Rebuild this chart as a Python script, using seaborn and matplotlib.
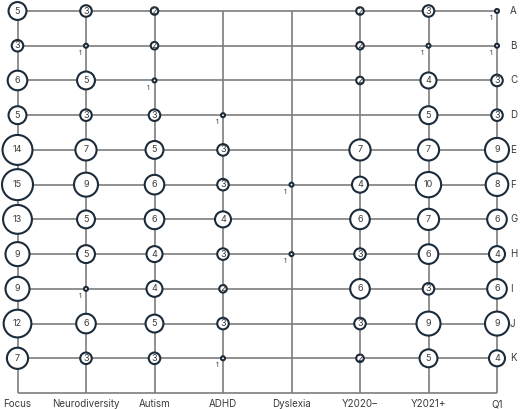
import numpy as np
import pandas as pd
import matplotlib
matplotlib.use("Agg")
import matplotlib.pyplot as plt
import seaborn as sns

# ── data ─────────────────────────────────────────────────────────────────────
ROWS = ["A", "B", "C", "D", "E", "F", "G", "H", "I", "J", "K"]
COLS = ["Focus", "Neurodiversity", "Autism", "ADHD", "Dyslexia",
        "Y2020–", "Y2021+", "Q1"]

focus          = [5, 3, 6, 5, 14, 15, 13, 9, 9, 12, 7]
neurodiversity = [3, 1, 5, 3, 7, 9, 5, 5, 1, 6, 3]
autism         = [2, 2, 1, 3, 5, 6, 6, 4, 4, 5, 3]
adhd           = [0, 0, 0, 1, 3, 3, 4, 3, 2, 3, 1]
dyslexia       = [0, 0, 0, 0, 0, 1, 0, 1, 0, 0, 0]
y2020          = [2, 2, 2, 0, 7, 4, 6, 3, 6, 3, 2]
y2021          = [3, 1, 4, 5, 7, 10, 7, 6, 3, 9, 5]
q1             = [1, 1, 3, 3, 9, 8, 6, 4, 6, 9, 4]

# ── styling ──────────────────────────────────────────────────────────────────
LINE_COLOR   = "#7d7d7d"
CIRCLE_EDGE  = "#1c2b3a"
TEXT_COLOR   = "#3a3a3a"
K_SQRT       = 4.0       # px radius per sqrt(value)


def radius_px(v):
    """sqrt scale, shrunk a bit more for the very small counts"""
    shrink = min(1.0, 0.5 + 0.5 * (v - 1) / 3)
    return K_SQRT * np.sqrt(v) * shrink


def main():
    sns.set_theme(style="white")
    plt.rcParams["font.family"] = ["Inter", "DejaVu Sans"]

    wide = pd.DataFrame(dict(zip(COLS, [focus, neurodiversity, autism, adhd,
                                        dyslexia, y2020, y2021, q1])),
                        index=ROWS)
    df = wide.reset_index(names="row").melt(id_vars="row", var_name="col",
                                            value_name="value")
    df["x"] = df["col"].map({c: i for i, c in enumerate(COLS)})
    df["y"] = df["row"].map({r: j for j, r in enumerate(ROWS)})
    df = df[df["value"] > 0]

    # scatter area in pt^2 (dpi 100 -> 1 px = 0.72 pt)
    sizes = {v: (2 * radius_px(v) * 0.72) ** 2
             for v in sorted(df["value"].unique())}

    fig = plt.figure(figsize=(5.2, 4.09), dpi=100)
    ax = fig.add_axes([0, 0, 1, 1])

    n_c, n_r = len(COLS), len(ROWS)
    x0, dx = 17.5, 68.5
    y0, dy = 11.0, 34.73
    ax.set_xlim(-x0 / dx, (520 - x0) / dx)
    ax.set_ylim((409 - y0) / dy, -y0 / dy)
    ax.axis("off")

    # grid lines
    ax.hlines(range(n_r + 1), 0, n_c - 1, color=LINE_COLOR, lw=1.2, zorder=1)
    ax.vlines(range(n_c), 0, n_r, color=LINE_COLOR, lw=1.2, zorder=1)

    sns.scatterplot(data=df, x="x", y="y", size="value", sizes=sizes,
                    facecolor="white", edgecolor=CIRCLE_EDGE, linewidth=1.5,
                    legend=False, zorder=3, ax=ax)

    for _, r in df.iterrows():
        if r["value"] == 1:
            ax.annotate("1", (r["x"], r["y"]), xytext=(-3.5, -3),
                        textcoords="offset points", ha="right", va="top",
                        fontsize=5, color=TEXT_COLOR, zorder=4)
        else:
            ax.text(r["x"], r["y"], str(r["value"]), ha="center",
                    va="center", fontsize=6.5, color=TEXT_COLOR, zorder=4)

    for j, lab in enumerate(ROWS):
        ax.text(n_c - 1 + 13 / dx, j, lab, ha="left", va="center",
                fontsize=7, color=TEXT_COLOR)
    for i, lab in enumerate(COLS):
        ax.text(i, n_r + 11 / dy, lab, ha="center", va="center",
                fontsize=7, color=TEXT_COLOR)

    fig.savefig("out.png", dpi=100)
    plt.close(fig)


if __name__ == "__main__":
    main()
